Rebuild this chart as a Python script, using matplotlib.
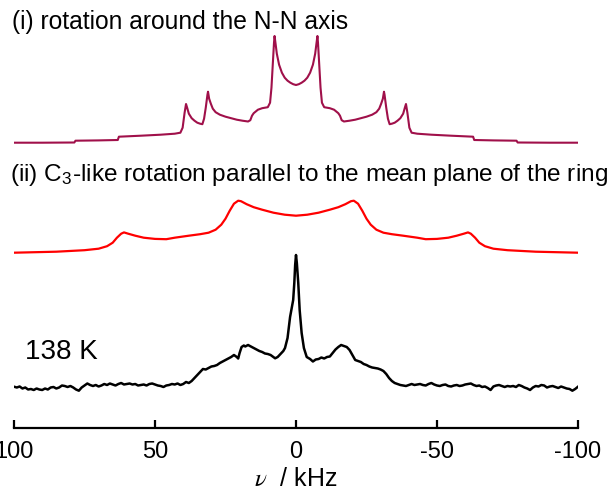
import matplotlib
matplotlib.use("Agg")
import matplotlib.pyplot as plt

plt.rcParams["font.family"] = ["Liberation Sans", "DejaVu Sans"]
plt.rcParams["mathtext.fontset"] = "stix"

# ── data: frequency (kHz) and relative intensity for each trace ──────────────
rot_nn_khz = [100, 90, 78.6, 78.2, 70, 63.2, 62.8, 55, 48, 43, 41, 40.2, 39.5, 39, 38.6,
              38, 37, 36, 35, 34, 33.2, 32.6, 32, 31.4, 31.2, 30.8, 30.2, 29.5, 28.5,
              27, 25, 23, 21, 19, 17, 16.2, 15.6, 15, 13.5, 12, 10, 9.2, 8.7, 8.2, 7.8,
              7.6, 7.2, 6.8, 6, 5, 4, 3, 2, 1, 0,
              -1, -2, -3, -4, -5, -6, -6.8, -7.2, -7.6, -7.8, -8.2, -8.7, -9.2, -10,
              -12, -13.5, -15, -15.6, -16.2, -17, -19, -21, -23, -25, -27, -28.5, -29.5,
              -30.2, -30.8, -31.2, -31.4, -32, -32.6, -33.2, -34, -35, -36, -37, -38,
              -38.6, -39, -39.5, -40.2, -41, -43, -48, -55, -62.8, -63.2, -70, -78.2,
              -78.6, -90, -100]
rot_nn_int = [0, 0, 0.2, 2, 2.3, 2.7, 6, 7, 8, 9, 10, 15, 30, 38.7, 35,
              29, 24.5, 22, 20, 19, 18.5, 24, 35, 48, 51, 44, 39, 34, 30.5,
              28, 26, 24.5, 23, 22, 21.2, 22.5, 27, 29.5, 33, 34.5, 35.5, 40, 55, 80, 100,
              106.7, 98, 89, 78, 70, 65, 62, 60, 58.5, 57.7,
              58.5, 60, 62, 65, 70, 78, 89, 98, 106.7, 100, 80, 55, 40, 35.5,
              34.5, 33, 29.5, 27, 22.5, 21.2, 22, 23, 24.5, 26, 28, 30.5, 34,
              39, 44, 51, 48, 35, 24, 18.5, 19, 20, 22, 24.5, 29,
              35, 38.7, 30, 15, 10, 9, 8, 7, 6, 2.7, 2.3, 2,
              0.2, 0, 0]

c3_khz = [100, 85, 75, 70, 67, 65, 63.5, 62, 61, 59.5, 57, 54, 50, 46, 43, 38, 34, 31,
          28.5, 26.5, 25, 23.5, 22, 20.5, 19.5, 17.5, 15, 12, 8, 4, 0,
          -4, -8, -12, -15, -17.5, -19.5, -20.5, -22, -23.5, -25, -26.5, -28.5, -31,
          -34, -38, -43, -46, -50, -54, -57, -59.5, -61, -62, -63.5, -65, -67, -70,
          -75, -85, -100]
c3_int = [0, 1, 2.5, 4, 6.5, 10, 15, 19, 20.3, 19, 17, 15, 13.8, 13.5, 15, 17, 18.5, 20,
          23, 28, 34, 42, 49, 52, 51.5, 48.5, 45.5, 43, 40, 38, 37,
          38, 40, 43, 45.5, 48.5, 51.5, 52, 49, 42, 34, 28, 23, 20,
          18.5, 17, 15, 13.5, 13.8, 15, 17, 19, 20.3, 19, 15, 10, 6.5, 4,
          2.5, 1, 0]

exp_khz = [100, 99, 98, 97, 96, 95, 94, 93, 92, 91, 90, 89, 88, 87, 86, 85, 84, 83, 82,
           81, 80, 79, 78, 77, 76, 75, 74, 73, 72, 71, 70, 69, 68, 67, 66, 65, 64, 63,
           62, 61, 60, 59, 58, 57, 56, 55, 54, 53, 52, 51, 50, 49, 48, 47, 46, 45, 44,
           43, 42, 41, 40, 39, 38, 37, 36, 35, 34, 33, 32, 31, 30, 29, 28, 27, 26, 25,
           24, 23, 22, 21, 20.5, 20, 19.3, 18.5, 18, 17, 16, 15, 14, 13, 12, 11, 10, 9,
           8, 7.4, 6.5, 5.5, 4.5, 3.9, 3, 2.1, 1.5, 1.0, 0.6, 0.3, 0, -0.3, -0.8, -1.3,
           -2, -2.8, -3.8, -5, -6, -7, -8, -9, -10, -11, -12, -13, -14, -15, -16, -17,
           -18, -19, -20, -21, -22, -23, -24, -25, -26, -27, -28, -29, -30, -31, -32,
           -33, -34, -35, -36, -37, -38, -39, -40, -41, -42, -43, -44, -45, -46, -47,
           -48, -49, -50, -51, -52, -53, -54, -55, -56, -57, -58, -59, -60, -61, -62,
           -63, -64, -65, -66, -67, -68, -69, -70, -71, -72, -73, -74, -75, -76, -77,
           -78, -79, -80, -81, -82, -83, -84, -85, -86, -87, -88, -89, -90, -91, -92,
           -93, -94, -95, -96, -97, -98, -99, -100]
exp_int = [1.3, 0.5, 1.5, -0.5, 0.5, -1.5, -1, -2, -0.5, -1.5, -2, -0.5, -1.5, 0.5, 1,
           -0.5, 0.5, 2.5, 2, 1, 2, 0.5, -1.5, -2.7, 0.5, 2.5, 4.5, 3, 2, 3, 1.5, 2.5,
           4, 3, 4.5, 3.5, 2.5, 4, 5, 3.5, 4, 4.5, 3.5, 4, 2.5, 3, 3.5, 2.5, 4, 4.5,
           3.5, 2.5, 2, 1, 2.5, 3, 4, 3.5, 4.5, 3, 4, 6, 5, 7, 10, 13, 16, 19, 18.5,
           20, 21.5, 22, 23, 25, 26.5, 28, 29.5, 31, 33, 31, 29.5, 35, 41, 42.5, 41.5,
           43, 41.5, 40, 38.5, 37, 36, 34.5, 34, 33, 31, 29.7, 31, 34, 37, 40, 50, 71,
           80, 88, 105, 123, 133, 125, 105, 78, 55, 40, 31, 29, 26.5, 28.5, 29, 30.5,
           29.5, 31, 31.5, 35, 38.5, 41, 43, 42, 41, 38, 33, 28, 27, 26, 24, 23, 21.5,
           20.5, 20, 19.5, 18.5, 17, 14, 10, 7, 5, 4, 3, 2.5, 2, 3, 4, 3, 3.5, 4, 3,
           2.5, 4, 5, 3.5, 2.5, 2, 3, 3.5, 2, 1.5, 2.5, 3, 2, 2.5, 3.5, 4, 4.5, 3, 2,
           2.5, 1, 1.5, 0, -2, 1.5, 2.5, 3, 2, 1, 2, 1.5, 2, 1, 3, 2, 0.5, -0.5, -2,
           0.5, 2, 1.5, 3, 2.5, 0.5, 1.5, 2, 1, 0, 1.5, 0.5, -0.5, -1, -2.7, -1, 1.3]

tick_values = [100, 50, 0, -50, -100]
tick_labels = ["100", "50", "0", "-50", "-100"]

# vertical offsets of the stacked traces (axes units = pixels above the axis)
OFFSET_NN = 285.3
OFFSET_C3 = 175.3
OFFSET_EXP = 40.0

W, H = 615, 497
fig = plt.figure(figsize=(W / 100, H / 100), dpi=100)
ax = fig.add_axes([14 / W, 69 / H, 564 / W, 428 / H])

ax.plot(rot_nn_khz, [v + OFFSET_NN for v in rot_nn_int], color="#A0104A", lw=1.5)
ax.plot(c3_khz, [v + OFFSET_C3 for v in c3_int], color="#FF0000", lw=1.6)
ax.plot(exp_khz, [v + OFFSET_EXP for v in exp_int], color="black", lw=1.8)

ax.set_xlim(100, -100)
ax.set_ylim(0, 428)
for side in ("left", "right", "top"):
    ax.spines[side].set_visible(False)
ax.spines["bottom"].set_linewidth(1.6)
ax.set_yticks([])
ax.set_xticks(tick_values)
ax.set_xticklabels(tick_labels)
ax.tick_params(axis="x", direction="in", length=6, width=1.6, pad=9, labelsize=17)
ax.set_xlabel(r"$\nu$  / kHz", fontsize=18, labelpad=3)
ax.patch.set_alpha(0)

fig.text(12 / W, 1 - 22 / H, "(i) rotation around the N-N axis",
         fontsize=17.7, ha="left", va="center")
fig.text(10 / W, 1 - 175 / H,
         "(ii) C$_\\mathregular{3}$-like rotation parallel to the mean plane of the ring",
         fontsize=17.6, ha="left", va="center")
fig.text(25 / W, 1 - 352 / H, "138 K", fontsize=20, ha="left", va="center")

fig.savefig("out.png", dpi=100)
